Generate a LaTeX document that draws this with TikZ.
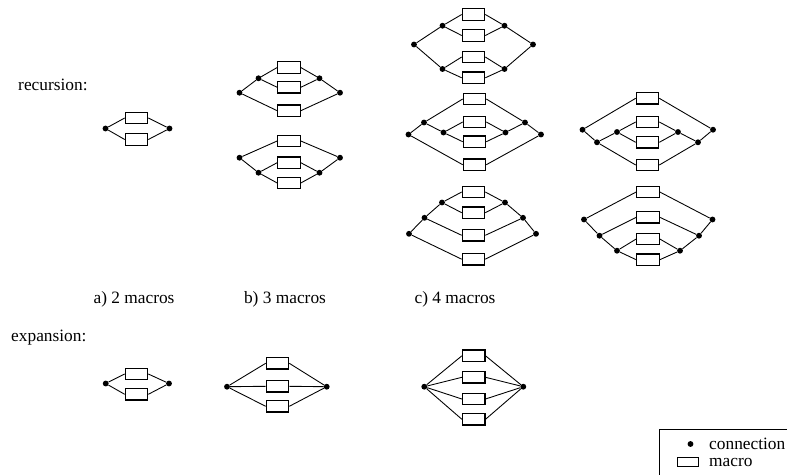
\documentclass[tikz,border=0pt]{standalone}
\usepackage{fontspec}
\setmainfont{Liberation Serif}
\begin{document}
\begin{tikzpicture}[x=0.03cm,y=-0.03cm,font=\fontsize{14.8}{17}\selectfont,
  macro/.style={draw,line width=1.1pt,rectangle,minimum width=0.67cm,
    minimum height=0.34cm,inner sep=0pt},
  conn/.style={circle,fill,inner sep=0pt,minimum size=5pt},
  wire/.style={line width=0.75pt},
  lbl/.style={inner sep=0pt}]
  \useasboundingbox (0,0) rectangle (787,474);
  % row labels
  \node[lbl,anchor=west] (rec) at (18,85) {recursion:};
  \node[lbl,anchor=west] (exp) at (11,338) {expansion:};
  \node[lbl] (capa) at (134,299) {a) 2 macros};
  \node[lbl] (capb) at (285,299) {b) 3 macros};
  \node[lbl] (capc) at (455,299) {c) 4 macros};
  % a) recursion
  \node[macro] (ra1) at (136.5,118) {};
  \node[macro] (ra2) at (136.5,139.5) {};
  \node[conn] (raL) at (105.5,128.5) {};
  \node[conn] (raR) at (169.5,128.5) {};
  \draw[wire] (raL)--(ra1.west) (raL)--(ra2.west) (ra1.east)--(raR) (ra2.east)--(raR);
  % b) recursion, upper
  \node[macro] (rb1) at (289,67.5) {};
  \node[macro] (rb2) at (289,87.3) {};
  \node[macro] (rb3) at (289,110.7) {};
  \node[conn] (rbl) at (258.5,78.3) {};
  \node[conn] (rbr) at (319.5,78.3) {};
  \node[conn] (rbL) at (239.5,92.7) {};
  \node[conn] (rbR) at (340,92.7) {};
  \draw[wire] (rbl)--(rb1.west) (rbl)--(rb2.west) (rb1.east)--(rbr) (rb2.east)--(rbr)
    (rbL)--(rbl) (rbL)--(rb3.west) (rbr)--(rbR) (rb3.east)--(rbR);
  % b) recursion, lower
  \node[macro] (rc1) at (289,141) {};
  \node[macro] (rc2) at (289,162.7) {};
  \node[macro] (rc3) at (289,183) {};
  \node[conn] (rcl) at (258.5,172.7) {};
  \node[conn] (rcr) at (319.5,172.7) {};
  \node[conn] (rcL) at (239.5,157.7) {};
  \node[conn] (rcR) at (340,157.7) {};
  \draw[wire] (rcl)--(rc2.west) (rcl)--(rc3.west) (rc2.east)--(rcr) (rc3.east)--(rcr)
    (rcL)--(rc1.west) (rcL)--(rcl) (rc1.east)--(rcR) (rcr)--(rcR);
  % c) recursion, first column
  \node[macro] (rd1) at (473.5,14.5) {};
  \node[macro] (rd2) at (473.5,35.5) {};
  \node[macro] (rd3) at (473.5,57) {};
  \node[macro] (rd4) at (473.5,77.8) {};
  \node[conn] (rdla) at (442.5,25.7) {};
  \node[conn] (rdlb) at (442.5,69) {};
  \node[conn] (rdra) at (504.5,25.7) {};
  \node[conn] (rdrb) at (504.5,69) {};
  \node[conn] (rdL) at (414,44.5) {};
  \node[conn] (rdR) at (533,44.5) {};
  \draw[wire] (rdla)--(rd1.west) (rdla)--(rd2.west) (rd1.east)--(rdra) (rd2.east)--(rdra)
    (rdlb)--(rd3.west) (rdlb)--(rd4.west) (rd3.east)--(rdrb) (rd4.east)--(rdrb)
    (rdL)--(rdla) (rdL)--(rdlb) (rdra)--(rdR) (rdrb)--(rdR);
  \node[macro] (re1) at (474.5,99) {};
  \node[macro] (re2) at (474.5,122) {};
  \node[macro] (re3) at (474.5,141.7) {};
  \node[macro] (re4) at (474.5,164.7) {};
  \node[conn] (rel) at (443.5,132.5) {};
  \node[conn] (rer) at (505.5,132.5) {};
  \node[conn] (rem) at (424,122.5) {};
  \node[conn] (ren) at (525,122.5) {};
  \node[conn] (reL) at (408.5,134.5) {};
  \node[conn] (reR) at (541,134.5) {};
  \draw[wire] (rel)--(re2.west) (rel)--(re3.west) (re2.east)--(rer) (re3.east)--(rer)
    (rem)--(re1.west) (rem)--(rel) (re1.east)--(ren) (rer)--(ren)
    (reL)--(rem) (reL)--(re4.west) (ren)--(reR) (re4.east)--(reR);
  \node[macro] (rf1) at (473.5,192) {};
  \node[macro] (rf2) at (473.5,212.7) {};
  \node[macro] (rf3) at (473.5,235.3) {};
  \node[macro] (rf4) at (473.5,259.2) {};
  \node[conn] (rfl) at (442,202.5) {};
  \node[conn] (rfr) at (505,202.5) {};
  \node[conn] (rfm) at (424.5,217.8) {};
  \node[conn] (rfn) at (523,217.8) {};
  \node[conn] (rfL) at (409,233.8) {};
  \node[conn] (rfR) at (536,233.8) {};
  \draw[wire] (rfl)--(rf1.west) (rfl)--(rf2.west) (rf1.east)--(rfr) (rf2.east)--(rfr)
    (rfm)--(rfl) (rfm)--(rf3.west) (rfr)--(rfn) (rf3.east)--(rfn)
    (rfL)--(rfm) (rfL)--(rf4.west) (rfn)--(rfR) (rf4.east)--(rfR);
  % c) recursion, second column
  \node[macro] (rg1) at (647.5,98.3) {};
  \node[macro] (rg2) at (647.5,122) {};
  \node[macro] (rg3) at (647.5,142.3) {};
  \node[macro] (rg4) at (647.5,165) {};
  \node[conn] (rgl) at (617,132) {};
  \node[conn] (rgr) at (678,132) {};
  \node[conn] (rgm) at (597,142.3) {};
  \node[conn] (rgn) at (698,142.3) {};
  \node[conn] (rgL) at (582.5,129.7) {};
  \node[conn] (rgR) at (713,129.7) {};
  \draw[wire] (rgl)--(rg2.west) (rgl)--(rg3.west) (rg2.east)--(rgr) (rg3.east)--(rgr)
    (rgm)--(rgl) (rgm)--(rg4.west) (rgr)--(rgn) (rg4.east)--(rgn)
    (rgL)--(rg1.west) (rgL)--(rgm) (rg1.east)--(rgR) (rgn)--(rgR);
  \node[macro] (rh1) at (648,192) {};
  \node[macro] (rh2) at (648,217.3) {};
  \node[macro] (rh3) at (648,239) {};
  \node[macro] (rh4) at (648,259.7) {};
  \node[conn] (rhl) at (617,250.7) {};
  \node[conn] (rhr) at (680,250.7) {};
  \node[conn] (rhm) at (599.5,235.7) {};
  \node[conn] (rhn) at (699,235.7) {};
  \node[conn] (rhL) at (584,219.5) {};
  \node[conn] (rhR) at (712.5,219.5) {};
  \draw[wire] (rhl)--(rh3.west) (rhl)--(rh4.west) (rh3.east)--(rhr) (rh4.east)--(rhr)
    (rhm)--(rh2.west) (rhm)--(rhl) (rh2.east)--(rhn) (rhr)--(rhn)
    (rhL)--(rh1.west) (rhL)--(rhm) (rh1.east)--(rhR) (rhn)--(rhR);
  % expansion
  \node[macro] (ea1) at (136.5,374) {};
  \node[macro] (ea2) at (136.5,394.3) {};
  \node[conn] (eaL) at (105.7,383.5) {};
  \node[conn] (eaR) at (169,383.5) {};
  \draw[wire] (eaL)--(ea1.west) (eaL)--(ea2.west) (ea1.east)--(eaR) (ea2.east)--(eaR);
  \node[macro] (eb1) at (277.5,363.3) {};
  \node[macro] (eb2) at (277.5,386.3) {};
  \node[macro] (eb3) at (277.5,406.3) {};
  \node[conn] (ebL) at (227,386.7) {};
  \node[conn] (ebR) at (326.7,386.7) {};
  \draw[wire] (ebL)--(eb1.west) (ebL)--(eb2.west) (ebL)--(eb3.west)
    (eb1.east)--(ebR) (eb2.east)--(ebR) (eb3.east)--(ebR);
  \node[macro] (ec1) at (473.7,355.8) {};
  \node[macro] (ec2) at (473.7,377.3) {};
  \node[macro] (ec3) at (473.7,399) {};
  \node[macro] (ec4) at (473.7,419.3) {};
  \node[conn] (ecL) at (424.3,386.7) {};
  \node[conn] (ecR) at (523.3,386.7) {};
  \draw[wire] (ecL)--(ec1.west) (ecL)--(ec2.west) (ecL)--(ec3.west) (ecL)--(ec4.west)
    (ec1.east)--(ecR) (ec2.east)--(ecR) (ec3.east)--(ecR) (ec4.east)--(ecR);
  % legend
  \draw[wire] (659,429) rectangle (800,490);
  \node[conn] (lgc) at (690.5,444) {};
  \node[lbl,anchor=west] (lgct) at (709,444) {connection};
  \node[macro,minimum width=0.64cm,minimum height=0.26cm] (lgm) at (688,462) {};
  \node[lbl,anchor=west] (lgmt) at (709,462) {macro};
\end{tikzpicture}
\end{document}
